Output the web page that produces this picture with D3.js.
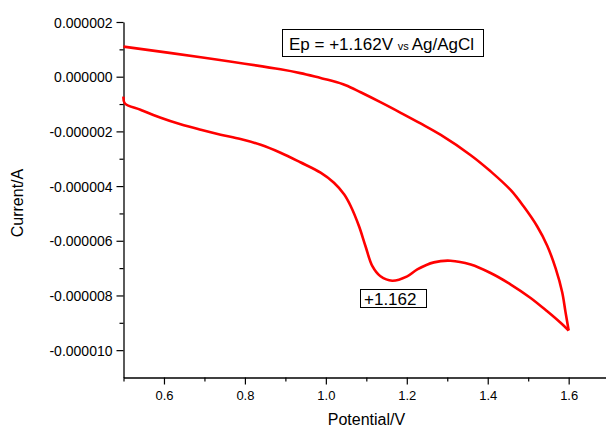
<!DOCTYPE html>
<html>
<head>
<meta charset="utf-8">
<script src="https://cdn.jsdelivr.net/npm/d3@7"></script>
<style>
  html, body { margin: 0; padding: 0; background: #fff; }
  svg { display: block; font-family: Arial, "Liberation Sans", sans-serif; }
</style>
</head>
<body>
<svg id="chart" width="606" height="430"></svg>
<script>
// ---------- data ----------
const forwardPotential = [0.500, 0.691, 0.888, 0.937, 0.987, 1.012, 1.049, 1.086, 1.136, 1.185, 1.234, 1.284, 1.358, 1.407, 1.457, 1.489, 1.522, 1.547, 1.568, 1.584, 1.592, 1.600];
const forwardCurrent = [1.10e-6, 0.71e-6, 0.27e-6, 0.13e-6, -0.05e-6, -0.14e-6, -0.31e-6, -0.57e-6, -0.94e-6, -1.32e-6, -1.71e-6, -2.13e-6, -2.87e-6, -3.46e-6, -4.15e-6, -4.75e-6, -5.47e-6, -6.18e-6, -7.02e-6, -7.88e-6, -8.59e-6, -9.28e-6];
const reversePotential = [1.600, 1.580, 1.547, 1.506, 1.457, 1.407, 1.358, 1.308, 1.267, 1.226, 1.201, 1.164, 1.135, 1.115, 1.098, 1.082, 1.061, 1.045, 1.020, 0.987, 0.937, 0.888, 0.839, 0.789, 0.740, 0.691, 0.641, 0.592, 0.542, 0.503, 0.500];
const reverseCurrent = [-9.28e-6, -9.00e-6, -8.58e-6, -8.09e-6, -7.60e-6, -7.18e-6, -6.87e-6, -6.73e-6, -6.79e-6, -7.05e-6, -7.30e-6, -7.46e-6, -7.30e-6, -6.93e-6, -6.20e-6, -5.47e-6, -4.72e-6, -4.30e-6, -3.88e-6, -3.51e-6, -3.13e-6, -2.78e-6, -2.49e-6, -2.28e-6, -2.12e-6, -1.94e-6, -1.74e-6, -1.50e-6, -1.21e-6, -0.97e-6, -0.73e-6];

const xTicks = [0.6, 0.8, 1.0, 1.2, 1.4, 1.6];
const xTickLabels = ["0.6", "0.8", "1.0", "1.2", "1.4", "1.6"];
const xMinorTicks = [0.5, 0.7, 0.9, 1.1, 1.3, 1.5];
const yTicks = [2e-6, 0, -2e-6, -4e-6, -6e-6, -8e-6, -10e-6];
const yTickLabels = ["0.000002", "0.000000", "-0.000002", "-0.000004", "-0.000006", "-0.000008", "-0.000010"];
const yMinorTicks = [1e-6, -1e-6, -3e-6, -5e-6, -7e-6, -9e-6];

const xTitle = "Potential/V";
const yTitle = "Current/A";
const peakLabel = "+1.162";
const legendMain = "Ep = +1.162V";
const legendSmall = "vs";
const legendRef = "Ag/AgCl";

// ---------- layout ----------
const svg = d3.select("#chart");
const mLeft = 123.5, mRight = 606, mTop = 22, mBottom = 377.5;

const x = d3.scaleLinear().domain([0.5, 0.5 + (mRight - mLeft) / 404.7]).range([mLeft, mRight]);
const y = d3.scaleLinear().domain([-11e-6, 2e-6]).range([mBottom, mTop]);

// x axis
const gx = svg.append("g").attr("transform", `translate(0,${mBottom})`);
gx.call(d3.axisBottom(x).tickValues(xTicks).tickSize(7).tickSizeOuter(0)
    .tickFormat((d, i) => xTickLabels[i]));
gx.append("g").call(d3.axisBottom(x).tickValues(xMinorTicks).tickSize(4).tickSizeOuter(0).tickFormat(""))
  .select(".domain").remove();
gx.selectAll("text").attr("font-size", 13).attr("font-family", "Arial, 'Liberation Sans', sans-serif").attr("fill", "#000").attr("dy", "0").attr("y", 22);
gx.selectAll("path.domain").attr("stroke", "#000").attr("stroke-width", 1.3);
gx.selectAll("line").attr("stroke", "#000").attr("stroke-width", 1.2);

// y axis
const gy = svg.append("g").attr("transform", `translate(${mLeft},0)`);
gy.call(d3.axisLeft(y).tickValues(yTicks).tickSize(7).tickSizeOuter(0)
    .tickFormat((d, i) => yTickLabels[i]));
gy.append("g").call(d3.axisLeft(y).tickValues(yMinorTicks).tickSize(4).tickSizeOuter(0).tickFormat(""))
  .select(".domain").remove();
gy.selectAll("text").attr("font-size", 14).attr("font-family", "Arial, 'Liberation Sans', sans-serif").attr("fill", "#000").attr("x", -11).attr("dy", "0.36em");
gy.selectAll("path.domain").attr("stroke", "#000").attr("stroke-width", 1.3);
gy.selectAll("line").attr("stroke", "#000").attr("stroke-width", 1.2);

// axis titles
svg.append("text").attr("x", 366.5).attr("y", 425).attr("text-anchor", "middle")
  .attr("font-size", 16).attr("fill", "#000").text(xTitle);
svg.append("text").attr("transform", "translate(23,203) rotate(-90)").attr("text-anchor", "middle")
  .attr("font-size", 16).attr("fill", "#000").text(yTitle);

// curves
const line = d3.line().x(d => x(d[0])).y(d => y(d[1])).curve(d3.curveCatmullRom.alpha(0.5));
const fwd = forwardPotential.map((p, i) => [p, forwardCurrent[i]]);
const rev = reversePotential.map((p, i) => [p, reverseCurrent[i]]);
[fwd, rev].forEach(data => {
  svg.append("path").datum(data).attr("d", line)
    .attr("fill", "none").attr("stroke", "#ff0000").attr("stroke-width", 2.6)
    .attr("stroke-linejoin", "miter").attr("stroke-linecap", "butt");
});

// legend box
svg.append("rect").attr("x", 282.5).attr("y", 29.5).attr("width", 201).attr("height", 27)
  .attr("fill", "#fff").attr("stroke", "#000").attr("stroke-width", 1);
const lt = svg.append("text").attr("x", 289).attr("y", 49.5).attr("fill", "#000");
lt.append("tspan").attr("font-size", 17).text(legendMain + " ");
lt.append("tspan").attr("font-size", 11).text(legendSmall + " ");
lt.append("tspan").attr("font-size", 17).text(legendRef);

// peak annotation
svg.append("rect").attr("x", 360.5).attr("y", 289.5).attr("width", 66).attr("height", 18)
  .attr("fill", "#fff").attr("stroke", "#000").attr("stroke-width", 1);
svg.append("text").attr("x", 364).attr("y", 305).attr("font-size", 17).attr("fill", "#000").text(peakLabel);
</script>
</body>
</html>
